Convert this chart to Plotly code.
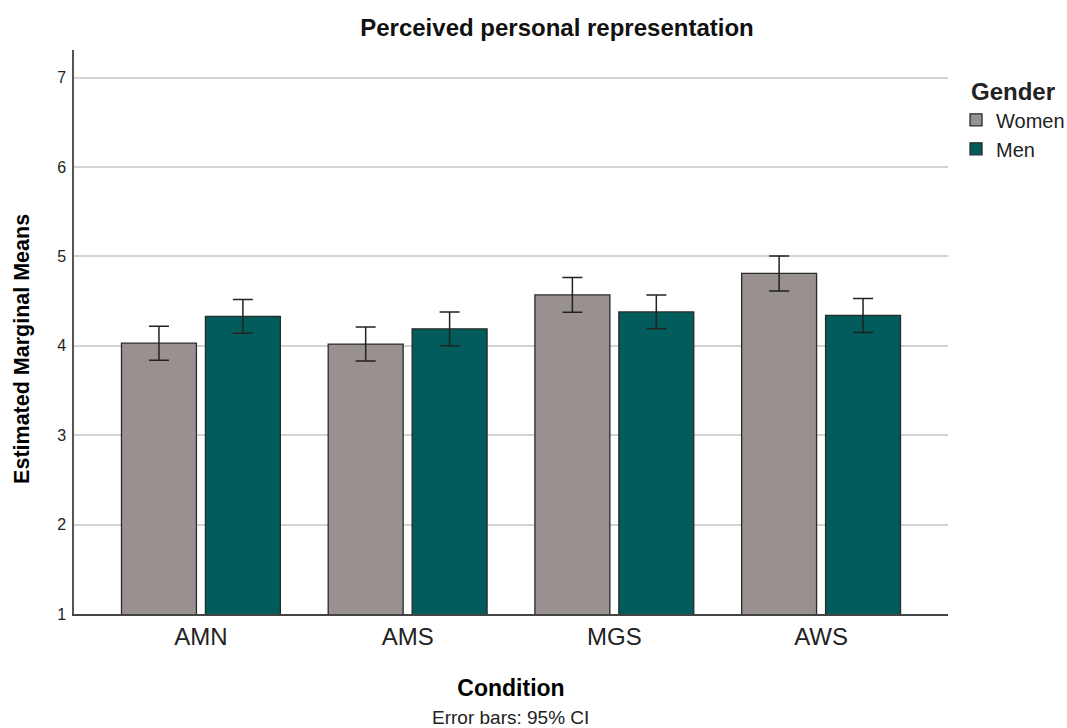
import plotly.graph_objects as go

# Estimated marginal means with 95% CI half-widths, by condition and gender
conditions = ["AMN", "AMS", "MGS", "AWS"]
women_means = [4.03, 4.02, 4.57, 4.81]
women_ci = [0.19, 0.19, 0.195, 0.195]
men_means = [4.33, 4.19, 4.38, 4.34]
men_ci = [0.19, 0.19, 0.19, 0.19]
y_ticks = [1, 2, 3, 4, 5, 6, 7]

FONT = "Liberation Sans, Arial, sans-serif"
WOMEN_COLOR = "#98918f"
MEN_COLOR = "#015c5b"
EDGE = "#2a2a2a"

fig = go.Figure()
for name, vals, ci, color in [
    ("Women", women_means, women_ci, WOMEN_COLOR),
    ("Men", men_means, men_ci, MEN_COLOR),
]:
    fig.add_trace(go.Bar(
        name=name,
        x=conditions,
        y=vals,
        base=0,
        marker=dict(color=color, line=dict(color=EDGE, width=1.3)),
        error_y=dict(type="data", array=ci, visible=True,
                     color="#222222", thickness=1.5, width=10),
    ))

fig.update_layout(
    width=1067, height=728,
    paper_bgcolor="white", plot_bgcolor="white",
    margin=dict(l=74, r=119, t=50, b=114, autoexpand=False),
    barmode="group", bargap=0.188, bargroupgap=0.107,
    font=dict(family=FONT, color="#000000"),
    title=dict(text="<b>Perceived personal representation</b>",
               x=0.522, xanchor="center", y=0.962, yanchor="middle",
               font=dict(size=24, family=FONT, color="#111111")),
    legend=dict(
        title=dict(text="<b>Gender</b>", font=dict(size=24, family=FONT),
                   side="top center"),
        xref="container", yref="container",
        x=0.896, xanchor="left", y=0.905, yanchor="top",
        font=dict(size=20, family=FONT, color="#222222"),
        itemwidth=30, tracegroupgap=0,
        bgcolor="rgba(0,0,0,0)",
    ),
    xaxis=dict(
        type="category", range=[-0.614, 3.614],
        showline=True, linecolor="#444444", linewidth=1.5,
        ticks="", tickfont=dict(size=24, family=FONT, color="#222222"),
        ticklabelstandoff=0,
        showgrid=False,
        title=dict(text="<b>Condition</b>", font=dict(size=23, family=FONT),
                   standoff=31),
    ),
    yaxis=dict(
        range=[1, 7.31], tickvals=y_ticks,
        showline=True, linecolor="#555555", linewidth=1.5,
        ticks="", tickfont=dict(size=16, family=FONT, color="#222222"),
        ticklabelstandoff=3,
        showgrid=True, gridcolor="#d3d3d3", gridwidth=2,
        zeroline=False,
    ),
    annotations=[
        dict(text="<b>Estimated Marginal Means</b>", textangle=-90,
             xref="paper", yref="paper", x=-0.0595, y=0.47,
             xanchor="center", yanchor="middle", showarrow=False,
             font=dict(size=21.5, family=FONT, color="#000000")),
        dict(text="Error bars: 95% CI", xref="paper", yref="paper",
             x=0.499, y=-0.183, xanchor="center", yanchor="middle",
             showarrow=False,
             font=dict(size=19, family=FONT, color="#222222")),
    ],
)

fig.write_html("out.html")
